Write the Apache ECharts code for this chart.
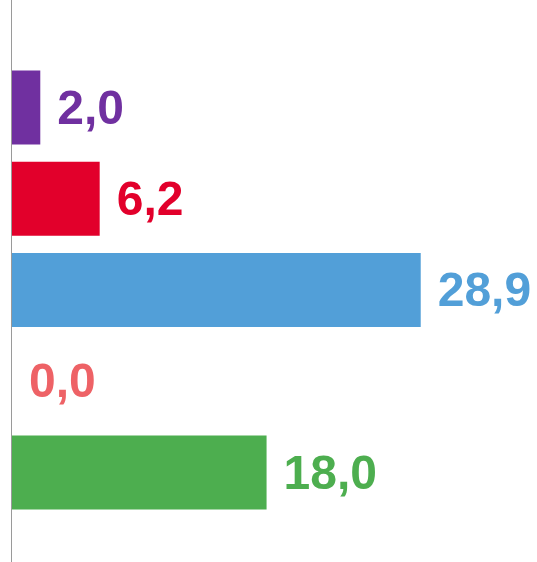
<!DOCTYPE html>
<html>
<head>
<meta charset="utf-8">
<script src="https://cdn.jsdelivr.net/npm/echarts@6/dist/echarts.min.js"></script>
<style>
  html, body { margin: 0; padding: 0; background: #fff; }
  #chart { width: 537px; height: 562px; }
</style>
</head>
<body>
<div id="chart"></div>
<script>
// data
const categories = ['A', 'B', 'C', 'D', 'E']
const values = [2.0, 6.2, 28.9, 0.0, 18.0]
const colors = ['#7030A0', '#E2002B', '#529FD8', '#EE6266', '#4DAE4F']

const chart = echarts.init(document.getElementById('chart'))

const option = {
  animation: false,
  grid: { left: 12, right: 30, top: 62, bottom: 44 },
  xAxis: {
    type: 'value',
    min: 0,
    max: 35,
    show: false
  },
  yAxis: {
    type: 'category',
    data: categories,
    inverse: true,
    axisLine: { show: false },
    axisTick: { show: false },
    axisLabel: { show: false }
  },
  // axis line runs over the full height of the picture
  graphic: [{
    type: 'line',
    shape: { x1: 11.5, y1: 0, x2: 11.5, y2: 562 },
    style: { stroke: '#9a9a9a', lineWidth: 1 }
  }],
  series: [{
    type: 'bar',
    barWidth: 74,
    data: values.map((v, i) => ({
      value: v,
      itemStyle: { color: colors[i] },
      label: { color: colors[i] }
    })),
    label: {
      show: true,
      position: 'right',
      distance: 17,
      offset: [0, 3],
      fontFamily: 'Liberation Sans',
      fontWeight: 'bold',
      fontSize: 48,
      formatter: p => p.value.toFixed(1).replace('.', ',')
    }
  }]
}

chart.setOption(option)
</script>
</body>
</html>
